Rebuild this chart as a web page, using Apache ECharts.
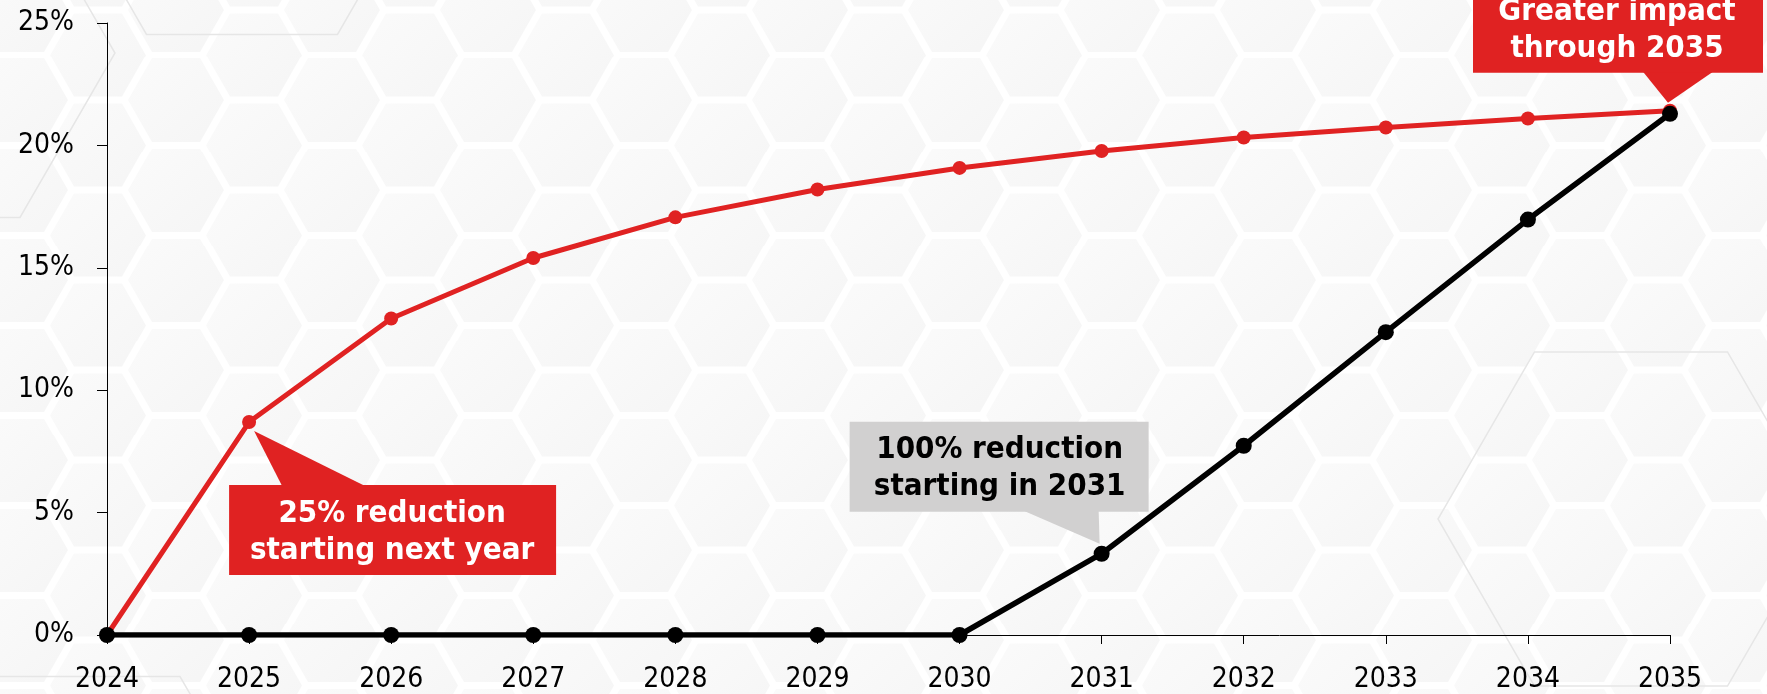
<!DOCTYPE html>
<html><head><meta charset="utf-8">
<script src="https://cdn.jsdelivr.net/npm/echarts@6/dist/echarts.min.js"></script>
<style>html,body{margin:0;padding:0;background:#fff}#c{width:1767px;height:694px;background-color:#ffffff}</style>
</head><body><div id="c"></div><script>
// ---- data ----
const years = ['2024','2025','2026','2027','2028','2029','2030','2031','2032','2033','2034','2035'];
const reduction25 = [0, 8.7, 12.93, 15.4, 17.06, 18.2, 19.08, 19.77, 20.32, 20.73, 21.1, 21.42];
const reduction100 = [0, 0, 0, 0, 0, 0, 0, 3.32, 7.73, 12.37, 16.97, 21.29];
const yTicks = [0, 5, 10, 15, 20, 25];
const note25 = ['25% reduction', 'starting next year'];
const note100 = ['100% reduction', 'starting in 2031'];
const noteEnd = ['Greater impact', 'through 2035'];

// ---- decorative honeycomb background ----
function hexPts(cx, cy, r) {
  const h = r * 0.866;
  return [[cx-r,cy],[cx-r/2,cy-h],[cx+r/2,cy-h],[cx+r,cy],[cx+r/2,cy+h],[cx-r/2,cy+h]]
    .map(q => q[0].toFixed(1)+','+q[1].toFixed(1)).join(' ');
}
(function(){
  const R = 52, H = R * 1.732, r = 48, W = 3 * R;
  const centers = [[0,0],[W,0],[0,H],[W,H],[W/2,H/2]];
  let s = '<svg xmlns="http://www.w3.org/2000/svg" width="'+W+'" height="'+H.toFixed(2)+'">';
  s += '<defs><linearGradient id="g" x1="0" y1="0" x2="1" y2="1"><stop offset="0" stop-color="#fbfbfb"/><stop offset="1" stop-color="#f5f5f5"/></linearGradient></defs>';
  centers.forEach(([cx,cy]) => { s += '<polygon points="'+hexPts(cx,cy,r)+'" fill="url(#g)"/>'; });
  s += '</svg>';
  let big = '<svg xmlns="http://www.w3.org/2000/svg" width="1767" height="694">';
  [[1631,519,193],[242,-131,191],[-75,53,190],[85,841,190]].forEach(([cx,cy,rr]) => {
    big += '<polygon points="'+hexPts(cx,cy,rr)+'" fill="none" stroke="#e6e6e6" stroke-width="1.5"/>';
  });
  big += '</svg>';
  const el = document.getElementById('c');
  el.style.backgroundImage = 'url("data:image/svg+xml,' + encodeURIComponent(big) + '"),url("data:image/svg+xml,' + encodeURIComponent(s) + '")';
  el.style.backgroundPosition = '0 0, 20px 10px';
})();

const RED = '#e02222', BLACK = '#000000', GRAY = '#d1d0d0';
const FONT = '"DejaVu Sans Condensed", "DejaVu Sans"';
const chart = echarts.init(document.getElementById('c'), null, {renderer: 'canvas'});
chart.setOption({
  backgroundColor: 'transparent',
  animation: false,
  grid: {left: 107, right: 97, top: 23, bottom: 58, containLabel: false},
  xAxis: {
    type: 'category', data: years, boundaryGap: false,
    axisLine: {lineStyle: {color: '#000', width: 1}},
    axisTick: {show: true, length: 9, lineStyle: {color: '#000'}, alignWithLabel: true},
    axisLabel: {color: '#000', fontFamily: FONT, fontSize: 28, margin: 31}
  },
  yAxis: {
    type: 'value', min: yTicks[0], max: yTicks[yTicks.length-1], interval: yTicks[1]-yTicks[0],
    axisLine: {show: true, lineStyle: {color: '#000', width: 1}},
    axisTick: {show: true, length: 10, lineStyle: {color: '#000'}},
    splitLine: {show: false},
    axisLabel: {color: '#000', fontFamily: FONT, fontSize: 28, margin: 33, formatter: v => v + '%'}
  },
  series: [
    {type: 'line', data: reduction25, symbol: 'circle', symbolSize: 14,
     lineStyle: {color: RED, width: 5}, itemStyle: {color: RED}, z: 2},
    {type: 'line', data: reduction100, symbol: 'circle', symbolSize: 16,
     lineStyle: {color: BLACK, width: 5.5}, itemStyle: {color: BLACK}, z: 3}
  ]
});

function callout(anchor, box, tri, fill, textColor, lines, tx, ty) {
  const [ax, ay] = anchor;
  const els = [];
  els.push({type: 'polygon', z: 10, shape: {points: tri.map(p => [ax + p[0], ay + p[1]])}, style: {fill: fill}});
  els.push({type: 'rect', z: 10, shape: {x: ax + box[0], y: ay + box[1], width: box[2], height: box[3]}, style: {fill: fill}});
  els.push({type: 'text', z: 11, x: ax + tx, y: ay + ty,
    style: {text: lines.join('\n'), fill: textColor, font: 'bold 31px ' + FONT,
      align: 'center', verticalAlign: 'middle', lineHeight: 37}});
  return els;
}

const p1 = chart.convertToPixel({seriesIndex: 0}, [1, reduction25[1]]);
const p2 = chart.convertToPixel({seriesIndex: 1}, [7, reduction100[7]]);
const p3 = chart.convertToPixel({seriesIndex: 0}, [11, reduction25[11]]);

const graphics = [].concat(
  callout(p1, [-20, 63, 327, 90], [[5, 9], [33, 64], [116, 64]], RED, '#ffffff', note25, 143, 110),
  callout(p2, [-252, -132, 299, 90], [[-78, -43], [-3, -43], [-2, -10]], GRAY, '#000000', note100, -102, -85),
  callout(p3, [-197, -140, 290, 102], [[-27, -39], [43, -39], [-2, -8]], RED, '#ffffff', noteEnd, -53, -80)
);
chart.setOption({graphic: graphics});
</script></body></html>
